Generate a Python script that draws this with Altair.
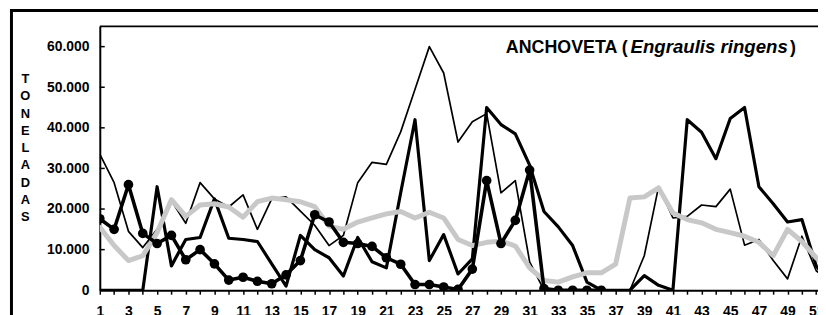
import altair as alt
import pandas as pd

# ---------------- data (tonnes per week) ----------------
weeks = list(range(1, 53))

serie_fina = [33500, 26500, 14500, 10500, 15000, 22000, 16500, 26500, 22500, 20500,
              23500, 15000, 22500, 23000, 19500, 16000, 11000, 13500, 26500, 31500,
              31000, 39000, 49500, 60000, 53500, 36500, 41500, 43500, 24000, 27000,
              7000, 0, 0, 0, 0, 0, 0, 0, 8500, 25500,
              17800, 18200, 21000, 20600, 24900, 11100, 12500, 7300, 2800, 13300,
              4800, 2000]

serie_gruesa = [0, 0, 0, 0, 25500, 6000, 12500, 13000, 22500, 12800,
                12500, 12000, 6500, 1000, 13500, 10000, 8000, 3500, 13000, 7000,
                5500, 24000, 42000, 7300, 13700, 4000, 7700, 45000, 40800, 38500,
                30800, 19400, 15600, 11000, 2000, 0, 0, 0, 3600, 1200,
                0, 42000, 38900, 32400, 42300, 45000, 25500, 21300, 16800, 17400,
                6000, 1500]

weeks_circulos = list(range(1, 37))
serie_circulos = [17600, 15000, 26000, 14000, 11500, 13500, 7500, 10000, 6500, 2500,
                  3200, 2200, 1600, 3800, 7300, 18600, 16800, 11800, 11500, 10800,
                  8000, 6400, 1400, 1400, 800, 200, 5200, 27000, 11500, 17200,
                  29600, 400, 0, 0, 0, 0]

serie_gris = [15500, 11000, 7300, 8500, 14200, 22300, 18200, 21000, 21300, 20500,
              18000, 21800, 22700, 22300, 21800, 20600, 15800, 15000, 16800, 17800,
              18800, 19400, 17800, 19200, 17800, 12500, 11000, 11800, 12100, 10900,
              5500, 2400, 2000, 3300, 4300, 4300, 6400, 22700, 23000, 25200,
              19000, 17400, 16600, 15000, 14200, 13300, 11800, 8500, 15000, 12000,
              8000, 5000]

y_ticks = [0, 10000, 20000, 30000, 40000, 50000, 60000]
x_ticks = list(range(1, 52))
y_title = ["T", "O", "N", "E", "L", "A", "D", "A", "S"]
title_parts = ["ANCHOVETA (", "Engraulis ringens", ")"]

# ---------------- layout ----------------
FONT = "Liberation Sans"
PLOT_W = 725.3
PLOT_H = 266.5

df_a = pd.DataFrame({"week": weeks, "value": serie_fina})
df_c = pd.DataFrame({"week": weeks, "value": serie_gruesa})
df_d = pd.DataFrame({"week": weeks_circulos, "value": serie_circulos})
df_e = pd.DataFrame({"week": weeks, "value": serie_gris})
df_yt = pd.DataFrame({"value": y_ticks})
one = pd.DataFrame({"k": [0]})

xenc = alt.X(
    "week:Q",
    scale=alt.Scale(domain=[1, 51.125], nice=False, zero=False),
    axis=alt.Axis(
        values=x_ticks,
        labelExpr="datum.value % 2 == 1 ? datum.value : ''",
        title=None,
        grid=False,
        domainColor="#000",
        domainWidth=2,
        tickColor="#000",
        tickWidth=1.5,
        tickSize=4,
        labelFont=FONT,
        labelFontSize=14,
        labelFontWeight="bold",
        labelColor="#000",
        labelPadding=11,
        labelOverlap=False,
        labelFlush=False,
        labelBaseline="top",
    ),
)

yenc = alt.Y(
    "value:Q",
    scale=alt.Scale(domain=[0, 65000], nice=False),
    axis=alt.Axis(
        values=y_ticks,
        labelExpr="replace(format(datum.value, ','), ',', '.')",
        title=y_title,
        titleAngle=0,
        titleX=-75.7,
        titleY=57,
        titleAlign="center",
        titleBaseline="alphabetic",
        titleFont=FONT,
        titleFontSize=13,
        titleFontWeight="bold",
        titleLineHeight=17.4,
        titleColor="#000",
        grid=False,
        ticks=False,
        domainColor="#000",
        domainWidth=2,
        labelFont=FONT,
        labelFontSize=14,
        labelFontWeight="bold",
        labelColor="#000",
        labelPadding=11,
    ),
)

line_a = alt.Chart(df_a).mark_line(
    color="#000", strokeWidth=1.7, clip=True, strokeJoin="round"
).encode(x=xenc, y=yenc)

line_c = alt.Chart(df_c).mark_line(
    color="#000", strokeWidth=3.2, clip=True, strokeJoin="round"
).encode(x=xenc, y=yenc)

line_e = alt.Chart(df_e).mark_line(
    color="#c8c8c8", strokeWidth=5, clip=True, strokeJoin="round", strokeCap="round"
).encode(x=xenc, y=yenc)

line_d = alt.Chart(df_d).mark_line(
    color="#000", strokeWidth=3.6, clip=True, strokeJoin="round",
    point=alt.OverlayMarkDef(filled=True, color="#000", size=95, opacity=1),
).encode(x=xenc, y=yenc)

ytick_rules = alt.Chart(df_yt).mark_rule(color="#000", strokeWidth=1.5).encode(
    y=yenc, x=alt.value(0), x2=alt.value(5)
)

top_border = alt.Chart(one).mark_rule(color="#000", strokeWidth=1.6).encode(
    x=alt.value(0), x2=alt.value(PLOT_W), y=alt.value(0)
)

frame = alt.Chart(one).mark_rect(
    filled=False, stroke="#000", strokeWidth=3
).encode(
    x=alt.value(-89.2), x2=alt.value(PLOT_W + 40),
    y=alt.value(-16), y2=alt.value(PLOT_H + 60)
)

t1 = alt.Chart(one).mark_text(
    text=title_parts[0], font=FONT, fontSize=18, fontWeight="bold",
    align="right", baseline="alphabetic", color="#000"
).encode(x=alt.value(533), y=alt.value(26.7))
t2 = alt.Chart(one).mark_text(
    text=title_parts[1], font=FONT, fontSize=18.8, fontWeight="bold", fontStyle="italic",
    align="left", baseline="alphabetic", color="#000"
).encode(x=alt.value(536), y=alt.value(26.7))
t3 = alt.Chart(one).mark_text(
    text=title_parts[2], font=FONT, fontSize=18, fontWeight="bold",
    align="left", baseline="alphabetic", color="#000"
).encode(x=alt.value(697), y=alt.value(26.7))

chart = alt.layer(
    frame, top_border, line_a, line_c, line_e, line_d, ytick_rules, t1, t2, t3
).properties(
    width=PLOT_W,
    height=PLOT_H,
    padding={"left": 92.7, "top": 17, "right": 0, "bottom": 23.5},
    autosize=alt.AutoSizeParams(type="none"),
    background="#ffffff",
).configure_view(stroke=None)

chart.save("out.html", embed_options={"renderer": "svg", "actions": False})
